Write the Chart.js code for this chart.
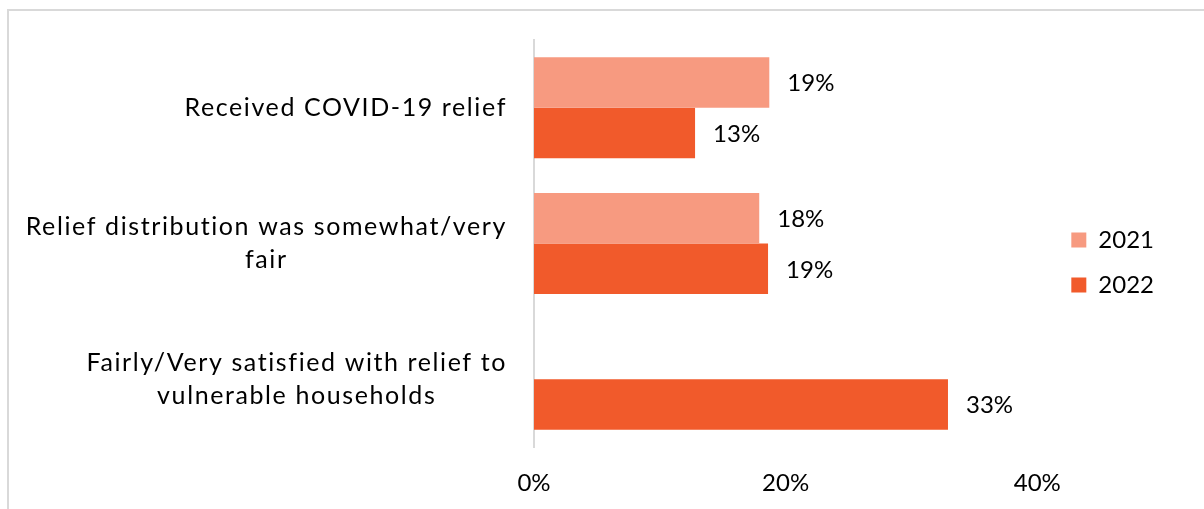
<!DOCTYPE html>
<html>
<head>
<meta charset="utf-8">
<script src="https://cdn.jsdelivr.net/npm/chart.js@4/dist/chart.umd.min.js"></script>
<style>
    html, body { margin: 0; padding: 0; background: #fff; overflow: hidden; }
    #frame { position: absolute; left: 7px; top: 9px; width: 1300px; height: 600px; border: 2px solid #d9d9d9; }
    #wrap { position: absolute; left: 0; top: 0; width: 1204px; height: 509px; }
</style>
</head>
<body>
<div id="frame"></div>
<div id="wrap"><canvas id="chart" width="1204" height="509"></canvas></div>
<script>
// chart data
const categories = [
    ['Received COVID-19 relief'],
    ['Relief distribution was somewhat/very', 'fair'],
    ['Fairly/Very satisfied with relief to', 'vulnerable households']
];
const seriesNames = ['2021', '2022'];
const values2021 = [18.7, 17.9, null];
const values2022 = [12.8, 18.6, 32.9];
const labels2021 = ['19%', '18%', ''];
const labels2022 = ['13%', '19%', '33%'];
const xTicks = [0, 20, 40];

const fontFamily = "Lato, 'Noto Sans', sans-serif";
const colors = ['#F79A80', '#F15A2B'];

// draws the category labels, right aligned block with centred lines
const categoryLabels = {
    id: 'categoryLabels',
    afterDraw(chart) {
        const ctx = chart.ctx;
        const yScale = chart.scales.y;
        ctx.save();
        ctx.font = '25px ' + fontFamily;
        ctx.letterSpacing = '1.6px';
        ctx.fillStyle = '#000';
        ctx.textAlign = 'center';
        ctx.textBaseline = 'middle';
        const lineHeight = 33;
        categories.forEach((lines, i) => {
            const w = Math.max(...lines.map(l => ctx.measureText(l).width));
            const cx = yScale.right - 27 - w / 2;
            const cy = yScale.getPixelForValue(i);
            const top = cy - (lines.length - 1) * lineHeight / 2;
            lines.forEach((l, j) => ctx.fillText(l, cx, top + j * lineHeight));
        });
        ctx.restore();
    }
};

// value labels at the end of each bar
const valueLabels = {
    id: 'valueLabels',
    afterDatasetsDraw(chart) {
        const ctx = chart.ctx;
        const texts = [labels2021, labels2022];
        ctx.save();
        ctx.font = '24px ' + fontFamily;
        ctx.fillStyle = '#000';
        ctx.textAlign = 'left';
        ctx.textBaseline = 'middle';
        chart.data.datasets.forEach((ds, di) => {
            const meta = chart.getDatasetMeta(di);
            meta.data.forEach((bar, i) => {
                if (ds.data[i] === null) return;
                ctx.fillText(texts[di][i], bar.x + 18, bar.y + 1);
            });
        });
        ctx.restore();
    }
};

// nudge the legend a bit so it sits where the original has it
const legendShift = {
    id: 'legendShift',
    afterLayout(chart) {
        const lg = chart.legend;
        if (!lg) return;
        lg.left += 13; lg.right += 13;
        lg.top -= 12; lg.bottom -= 12;
    }
};

new Chart(document.getElementById('chart').getContext('2d'), {
    type: 'bar',
    data: {
        labels: categories.map(c => c.join(' ')),
        datasets: [
            { label: seriesNames[0], data: values2021, backgroundColor: colors[0] },
            { label: seriesNames[1], data: values2022, backgroundColor: colors[1] }
        ]
    },
    options: {
        indexAxis: 'y',
        responsive: false,
        animation: false,
        events: [],
        layout: { padding: { top: 40, right: 53, bottom: 0, left: 0 } },
        datasets: {
            bar: { categoryPercentage: 0.745, barPercentage: 1.0 }
        },
        scales: {
            x: {
                min: 0,
                max: 40,
                afterBuildTicks: scale => { scale.ticks = xTicks.map(v => ({ value: v })); },
                afterFit: scale => { scale.height = 62; },
                grid: { display: false, drawTicks: false },
                border: { display: false },
                ticks: {
                    padding: 22,
                    color: '#000',
                    font: { family: fontFamily, size: 24 },
                    callback: v => v + '%'
                }
            },
            y: {
                afterFit: scale => { scale.width = 534; },
                grid: { display: false, drawTicks: false },
                border: { display: true, color: '#d9d9d9', width: 2 },
                ticks: { display: false }
            }
        },
        plugins: {
            legend: {
                position: 'right',
                labels: {
                    boxWidth: 15,
                    boxHeight: 15,
                    padding: 21,
                    color: '#000',
                    font: { family: fontFamily, size: 24 }
                }
            },
            tooltip: { enabled: false }
        }
    },
    plugins: [categoryLabels, valueLabels, legendShift]
});
</script>
</body>
</html>
